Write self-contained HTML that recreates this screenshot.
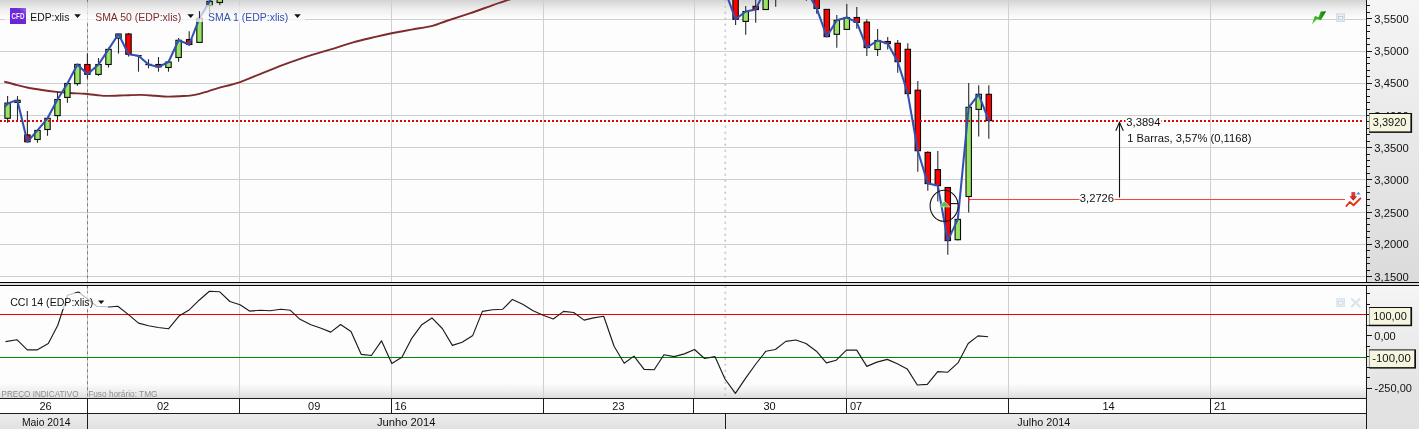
<!DOCTYPE html>
<html lang="pt"><head><meta charset="utf-8"><title>EDP:xlis</title>
<style>
html,body{margin:0;padding:0;background:#fdfdfd;overflow:hidden}
svg{display:block}
text{font-family:"Liberation Sans", sans-serif;font-size:11px;fill:#111}
.g{shape-rendering:crispEdges}
</style></head><body>
<svg width="1419" height="429" viewBox="0 0 1419 429">
<defs>
<linearGradient id="topg" gradientUnits="userSpaceOnUse" x1="0" y1="0" x2="0" y2="18"><stop offset="0" stop-color="#d3d3d3"/><stop offset="0.45" stop-color="#ececec"/><stop offset="1" stop-color="#fdfdfd"/></linearGradient>
<linearGradient id="botg" x1="0" y1="0" x2="0" y2="1"><stop offset="0" stop-color="#fdfdfd"/><stop offset="0.5" stop-color="#f0f0f0"/><stop offset="1" stop-color="#dcdcdc"/></linearGradient>
<linearGradient id="axg" x1="0" y1="0" x2="0" y2="1"><stop offset="0" stop-color="#f5f5f5"/><stop offset="1" stop-color="#dbdbdb"/></linearGradient>
<linearGradient id="axg2" x1="0" y1="0" x2="0" y2="1"><stop offset="0" stop-color="#f5f5f5"/><stop offset="0.75" stop-color="#e3e3e3"/><stop offset="1" stop-color="#e1e1e1"/></linearGradient>
<linearGradient id="mong" x1="0" y1="0" x2="0" y2="1"><stop offset="0" stop-color="#ececec"/><stop offset="1" stop-color="#e1e1e1"/></linearGradient>
<linearGradient id="grn" x1="0" y1="0" x2="1" y2="0"><stop offset="0" stop-color="#4cc832"/><stop offset="0.55" stop-color="#2fa822"/><stop offset="1" stop-color="#0f6a12"/></linearGradient>
<linearGradient id="cfd" x1="0" y1="1" x2="1" y2="0"><stop offset="0" stop-color="#6a22d6"/><stop offset="0.7" stop-color="#6d2ad8"/><stop offset="1" stop-color="#9a6ae8"/></linearGradient>
<linearGradient id="rarr" x1="0" y1="0" x2="0" y2="1"><stop offset="0" stop-color="#e04a4a"/><stop offset="1" stop-color="#c01818"/></linearGradient>
<clipPath id="cm"><rect x="0" y="0" width="1366" height="282"/></clipPath>
<clipPath id="ca"><rect x="1366" y="0" width="60" height="282"/></clipPath>
<clipPath id="cc"><rect x="0" y="286" width="1366" height="112"/></clipPath>
</defs>
<rect x="0" y="0" width="1419" height="429" fill="#fdfdfd"/>
<rect x="0" y="0" width="1366" height="18" fill="url(#topg)"/>
<rect x="0" y="383" width="1366" height="15" fill="url(#botg)"/>
<rect x="1367" y="0" width="52" height="282" fill="url(#axg)"/>
<rect x="1367" y="286" width="52" height="143" fill="url(#axg2)"/>
<g class="g" fill="#cfcfcf">
<rect x="0" y="19" width="1366" height="1"/>
<rect x="0" y="51" width="1366" height="1"/>
<rect x="0" y="83" width="1366" height="1"/>
<rect x="0" y="115" width="1366" height="1"/>
<rect x="0" y="147" width="1366" height="1"/>
<rect x="0" y="179" width="1366" height="1"/>
<rect x="0" y="212" width="1366" height="1"/>
<rect x="0" y="244" width="1366" height="1"/>
<rect x="0" y="276" width="1366" height="1"/>
<rect x="239" y="0" width="1" height="282"/>
<rect x="239" y="286" width="1" height="112"/>
<rect x="391" y="0" width="1" height="282"/>
<rect x="391" y="286" width="1" height="112"/>
<rect x="543" y="0" width="1" height="282"/>
<rect x="543" y="286" width="1" height="112"/>
<rect x="694" y="0" width="1" height="282"/>
<rect x="694" y="286" width="1" height="112"/>
<rect x="846" y="0" width="1" height="282"/>
<rect x="846" y="286" width="1" height="112"/>
<rect x="1008" y="0" width="1" height="282"/>
<rect x="1008" y="286" width="1" height="112"/>
<rect x="1210" y="0" width="1" height="282"/>
<rect x="1210" y="286" width="1" height="112"/>
</g>
<g>
<line x1="87.5" y1="0.00" x2="87.5" y2="282" stroke="#c9c9c9" stroke-width="1"/>
<line x1="87.5" y1="-0.60" x2="87.5" y2="282" stroke="#7c7c7c" stroke-width="1" stroke-dasharray="2.8 3.2"/>
<line x1="725.3" y1="-0.20" x2="725.3" y2="282" stroke="#c6c6c6" stroke-width="1.7" stroke-dasharray="2 4"/>
<line x1="87.5" y1="286.00" x2="87.5" y2="398" stroke="#c9c9c9" stroke-width="1"/>
<line x1="87.5" y1="285.40" x2="87.5" y2="398" stroke="#7c7c7c" stroke-width="1" stroke-dasharray="2.8 3.2"/>
<line x1="725.3" y1="285.80" x2="725.3" y2="398" stroke="#c6c6c6" stroke-width="1.7" stroke-dasharray="2 4"/>
</g>
<g clip-path="url(#cm)">
<path d="M5.0 81.8 C6.8 82.3 12.3 83.9 16.0 84.8 C19.7 85.7 24.0 86.9 28.2 87.7 C32.4 88.5 37.5 89.3 42.0 90.0 C46.5 90.7 51.9 91.4 56.4 91.9 C60.9 92.4 65.5 92.7 70.0 93.0 C74.5 93.3 80.4 93.5 84.6 93.8 C88.8 94.1 92.4 94.7 96.0 95.0 C99.6 95.3 102.5 95.8 107.0 95.9 C111.5 96.0 118.6 95.6 124.0 95.4 C129.4 95.2 136.0 94.8 141.0 94.9 C146.0 95.0 150.7 95.5 155.0 95.8 C159.3 96.1 163.7 96.5 167.7 96.6 C171.7 96.7 176.4 96.4 180.0 96.2 C183.6 96.0 186.9 96.0 190.0 95.6 C193.1 95.2 196.4 94.6 199.3 93.9 C202.2 93.2 205.0 92.2 208.0 91.3 C211.0 90.4 213.0 89.5 218.0 88.1 C223.0 86.7 232.7 84.5 239.4 82.3 C246.1 80.1 253.0 76.9 260.0 74.1 C267.0 71.3 275.7 67.6 283.2 64.8 C290.7 62.0 299.1 59.0 306.6 56.6 C314.1 54.2 322.4 52.0 329.9 49.7 C337.4 47.4 345.7 44.5 353.2 42.4 C360.7 40.3 370.4 38.1 376.5 36.6 C382.6 35.1 386.0 34.4 391.6 33.3 C397.2 32.2 404.9 30.8 411.4 29.6 C417.9 28.4 426.8 27.3 432.4 25.9 C438.0 24.5 440.4 23.0 446.4 21.0 C452.4 19.0 462.2 15.8 469.7 13.3 C477.2 10.8 486.4 7.4 493.0 5.1 C499.6 2.8 508.1 -0.0 511.0 -1.0" fill="none" stroke="#7d2b2b" stroke-width="1.9" stroke-linejoin="round" stroke-linecap="round"/>
<rect class="g" x="968" y="199" width="377" height="1" fill="#ff4040"/>
<g>
<line x1="7.6" y1="96.1" x2="7.6" y2="122.7" stroke="#2a2a2a" stroke-width="1.1"/>
<rect x="4.9" y="103.1" width="5.4" height="15.2" fill="#98e566" stroke="#0a0a0a" stroke-width="1.1"/>
<line x1="17.5" y1="96.1" x2="17.5" y2="120.4" stroke="#2a2a2a" stroke-width="1.1"/>
<rect x="14.8" y="100.3" width="5.4" height="2.1" fill="#98e566" stroke="#0a0a0a" stroke-width="1.1"/>
<line x1="27.4" y1="111.1" x2="27.4" y2="142.5" stroke="#2a2a2a" stroke-width="1.1"/>
<rect x="24.7" y="134.9" width="5.4" height="6.9" fill="#ff0000" stroke="#0a0a0a" stroke-width="1.1"/>
<line x1="37.5" y1="130.4" x2="37.5" y2="142.8" stroke="#2a2a2a" stroke-width="1.1"/>
<rect x="34.8" y="130.4" width="5.4" height="9.1" fill="#98e566" stroke="#0a0a0a" stroke-width="1.1"/>
<line x1="47.5" y1="118.3" x2="47.5" y2="135.8" stroke="#2a2a2a" stroke-width="1.1"/>
<rect x="44.8" y="118.3" width="5.4" height="11.2" fill="#98e566" stroke="#0a0a0a" stroke-width="1.1"/>
<line x1="57.5" y1="91.9" x2="57.5" y2="121.6" stroke="#2a2a2a" stroke-width="1.1"/>
<rect x="54.8" y="99.5" width="5.4" height="16.1" fill="#98e566" stroke="#0a0a0a" stroke-width="1.1"/>
<line x1="67.4" y1="83.5" x2="67.4" y2="102.7" stroke="#2a2a2a" stroke-width="1.1"/>
<rect x="64.7" y="83.5" width="5.4" height="13.9" fill="#98e566" stroke="#0a0a0a" stroke-width="1.1"/>
<line x1="77.4" y1="64.4" x2="77.4" y2="85.7" stroke="#2a2a2a" stroke-width="1.1"/>
<rect x="74.7" y="64.4" width="5.4" height="19.2" fill="#98e566" stroke="#0a0a0a" stroke-width="1.1"/>
<line x1="87.4" y1="53.6" x2="87.4" y2="78.6" stroke="#2a2a2a" stroke-width="1.1"/>
<rect x="84.7" y="64.5" width="5.4" height="9.8" fill="#ff0000" stroke="#0a0a0a" stroke-width="1.1"/>
<line x1="98.5" y1="58.0" x2="98.5" y2="75.8" stroke="#2a2a2a" stroke-width="1.1"/>
<rect x="95.8" y="64.5" width="5.4" height="9.9" fill="#98e566" stroke="#0a0a0a" stroke-width="1.1"/>
<line x1="108.5" y1="47.5" x2="108.5" y2="67.6" stroke="#2a2a2a" stroke-width="1.1"/>
<rect x="105.8" y="49.4" width="5.4" height="15.1" fill="#98e566" stroke="#0a0a0a" stroke-width="1.1"/>
<line x1="118.5" y1="34.0" x2="118.5" y2="53.6" stroke="#2a2a2a" stroke-width="1.1"/>
<rect x="115.8" y="34.0" width="5.4" height="4.2" fill="#98e566" stroke="#0a0a0a" stroke-width="1.1"/>
<line x1="128.5" y1="33.0" x2="128.5" y2="56.6" stroke="#2a2a2a" stroke-width="1.1"/>
<rect x="125.8" y="34.0" width="5.4" height="20.3" fill="#ff0000" stroke="#0a0a0a" stroke-width="1.1"/>
<line x1="138.5" y1="55.7" x2="138.5" y2="71.7" stroke="#2a2a2a" stroke-width="1.1"/>
<line x1="135.3" y1="55.7" x2="141.7" y2="55.7" stroke="#111" stroke-width="1.4"/>
<line x1="148.5" y1="59.2" x2="148.5" y2="68.3" stroke="#2a2a2a" stroke-width="1.1"/>
<line x1="145.3" y1="64.5" x2="151.7" y2="64.5" stroke="#111" stroke-width="1.4"/>
<line x1="158.5" y1="57.0" x2="158.5" y2="71.7" stroke="#2a2a2a" stroke-width="1.1"/>
<rect x="155.8" y="64.5" width="5.4" height="2.4" fill="#ff0000" stroke="#0a0a0a" stroke-width="1.1"/>
<line x1="168.5" y1="60.5" x2="168.5" y2="71.7" stroke="#2a2a2a" stroke-width="1.1"/>
<rect x="165.8" y="62.0" width="5.4" height="5.5" fill="#98e566" stroke="#0a0a0a" stroke-width="1.1"/>
<line x1="178.6" y1="37.9" x2="178.6" y2="61.7" stroke="#2a2a2a" stroke-width="1.1"/>
<rect x="175.9" y="40.3" width="5.4" height="17.2" fill="#98e566" stroke="#0a0a0a" stroke-width="1.1"/>
<line x1="189.2" y1="31.2" x2="189.2" y2="45.9" stroke="#2a2a2a" stroke-width="1.1"/>
<rect x="186.5" y="39.6" width="5.4" height="4.9" fill="#ff0000" stroke="#0a0a0a" stroke-width="1.1"/>
<line x1="199.5" y1="11.2" x2="199.5" y2="42.4" stroke="#2a2a2a" stroke-width="1.1"/>
<rect x="196.8" y="18.2" width="5.4" height="24.2" fill="#98e566" stroke="#0a0a0a" stroke-width="1.1"/>
<line x1="209.6" y1="1.0" x2="209.6" y2="13.3" stroke="#2a2a2a" stroke-width="1.1"/>
<rect x="206.9" y="1.4" width="5.4" height="4.2" fill="#98e566" stroke="#0a0a0a" stroke-width="1.1"/>
<line x1="219.8" y1="-5.0" x2="219.8" y2="5.6" stroke="#2a2a2a" stroke-width="1.1"/>
<rect x="217.1" y="-5.0" width="5.4" height="7.5" fill="#98e566" stroke="#0a0a0a" stroke-width="1.1"/>
<line x1="735.6" y1="-5.0" x2="735.6" y2="24.9" stroke="#2a2a2a" stroke-width="1.1"/>
<rect x="732.9" y="-5.0" width="5.4" height="24.3" fill="#ff0000" stroke="#0a0a0a" stroke-width="1.1"/>
<line x1="745.7" y1="5.9" x2="745.7" y2="34.7" stroke="#2a2a2a" stroke-width="1.1"/>
<rect x="743.0" y="11.5" width="5.4" height="9.9" fill="#98e566" stroke="#0a0a0a" stroke-width="1.1"/>
<line x1="755.7" y1="-5.0" x2="755.7" y2="22.7" stroke="#2a2a2a" stroke-width="1.1"/>
<rect x="753.0" y="6.3" width="5.4" height="3.2" fill="#ff0000" stroke="#0a0a0a" stroke-width="1.1"/>
<line x1="765.7" y1="-5.0" x2="765.7" y2="9.5" stroke="#2a2a2a" stroke-width="1.1"/>
<rect x="763.0" y="-5.0" width="5.4" height="14.5" fill="#98e566" stroke="#0a0a0a" stroke-width="1.1"/>
<line x1="775.7" y1="-5.0" x2="775.7" y2="6.7" stroke="#2a2a2a" stroke-width="1.1"/>
<line x1="772.5" y1="-4.5" x2="778.9" y2="-4.5" stroke="#111" stroke-width="1.4"/>
<line x1="806.4" y1="-5.0" x2="806.4" y2="0.8" stroke="#2a2a2a" stroke-width="1.1"/>
<line x1="803.2" y1="-4.5" x2="809.6" y2="-4.5" stroke="#111" stroke-width="1.4"/>
<line x1="816.7" y1="-5.0" x2="816.7" y2="13.7" stroke="#2a2a2a" stroke-width="1.1"/>
<rect x="814.0" y="-5.0" width="5.4" height="13.4" fill="#ff0000" stroke="#0a0a0a" stroke-width="1.1"/>
<line x1="826.8" y1="9.4" x2="826.8" y2="36.6" stroke="#2a2a2a" stroke-width="1.1"/>
<rect x="824.1" y="9.4" width="5.4" height="27.2" fill="#ff0000" stroke="#0a0a0a" stroke-width="1.1"/>
<line x1="836.8" y1="15.0" x2="836.8" y2="47.8" stroke="#2a2a2a" stroke-width="1.1"/>
<rect x="834.1" y="20.3" width="5.4" height="14.0" fill="#98e566" stroke="#0a0a0a" stroke-width="1.1"/>
<line x1="846.8" y1="3.9" x2="846.8" y2="29.4" stroke="#2a2a2a" stroke-width="1.1"/>
<rect x="844.1" y="17.5" width="5.4" height="11.9" fill="#98e566" stroke="#0a0a0a" stroke-width="1.1"/>
<line x1="856.8" y1="7.0" x2="856.8" y2="28.7" stroke="#2a2a2a" stroke-width="1.1"/>
<rect x="854.1" y="17.5" width="5.4" height="4.9" fill="#ff0000" stroke="#0a0a0a" stroke-width="1.1"/>
<line x1="866.8" y1="19.3" x2="866.8" y2="55.9" stroke="#2a2a2a" stroke-width="1.1"/>
<rect x="864.1" y="22.1" width="5.4" height="25.5" fill="#ff0000" stroke="#0a0a0a" stroke-width="1.1"/>
<line x1="877.6" y1="29.0" x2="877.6" y2="55.9" stroke="#2a2a2a" stroke-width="1.1"/>
<rect x="874.9" y="40.5" width="5.4" height="9.0" fill="#98e566" stroke="#0a0a0a" stroke-width="1.1"/>
<line x1="887.7" y1="37.0" x2="887.7" y2="49.6" stroke="#2a2a2a" stroke-width="1.1"/>
<rect x="885.0" y="41.5" width="5.4" height="2.1" fill="#ff0000" stroke="#0a0a0a" stroke-width="1.1"/>
<line x1="897.7" y1="40.0" x2="897.7" y2="72.7" stroke="#2a2a2a" stroke-width="1.1"/>
<rect x="895.0" y="43.3" width="5.4" height="18.4" fill="#ff0000" stroke="#0a0a0a" stroke-width="1.1"/>
<line x1="907.8" y1="43.3" x2="907.8" y2="93.6" stroke="#2a2a2a" stroke-width="1.1"/>
<rect x="905.1" y="49.3" width="5.4" height="44.3" fill="#ff0000" stroke="#0a0a0a" stroke-width="1.1"/>
<line x1="917.8" y1="81.1" x2="917.8" y2="171.7" stroke="#2a2a2a" stroke-width="1.1"/>
<rect x="915.1" y="90.2" width="5.4" height="60.5" fill="#ff0000" stroke="#0a0a0a" stroke-width="1.1"/>
<line x1="927.8" y1="151.3" x2="927.8" y2="190.7" stroke="#2a2a2a" stroke-width="1.1"/>
<rect x="925.1" y="152.4" width="5.4" height="31.2" fill="#ff0000" stroke="#0a0a0a" stroke-width="1.1"/>
<line x1="937.8" y1="151.0" x2="937.8" y2="201.5" stroke="#2a2a2a" stroke-width="1.1"/>
<rect x="935.1" y="169.6" width="5.4" height="16.0" fill="#ff0000" stroke="#0a0a0a" stroke-width="1.1"/>
<line x1="947.8" y1="187.5" x2="947.8" y2="254.7" stroke="#2a2a2a" stroke-width="1.1"/>
<rect x="945.1" y="187.5" width="5.4" height="53.1" fill="#ff0000" stroke="#0a0a0a" stroke-width="1.1"/>
<line x1="957.8" y1="219.4" x2="957.8" y2="240.4" stroke="#2a2a2a" stroke-width="1.1"/>
<rect x="955.1" y="219.4" width="5.4" height="20.3" fill="#98e566" stroke="#0a0a0a" stroke-width="1.1"/>
<line x1="968.7" y1="83.1" x2="968.7" y2="212.6" stroke="#2a2a2a" stroke-width="1.1"/>
<rect x="966.0" y="107.3" width="5.4" height="89.2" fill="#98e566" stroke="#0a0a0a" stroke-width="1.1"/>
<line x1="978.7" y1="85.2" x2="978.7" y2="136.6" stroke="#2a2a2a" stroke-width="1.1"/>
<rect x="976.0" y="94.3" width="5.4" height="15.1" fill="#98e566" stroke="#0a0a0a" stroke-width="1.1"/>
<line x1="988.8" y1="85.2" x2="988.8" y2="138.7" stroke="#2a2a2a" stroke-width="1.1"/>
<rect x="986.1" y="94.3" width="5.4" height="26.3" fill="#ff0000" stroke="#0a0a0a" stroke-width="1.1"/>
</g>
<line x1="968.7" y1="197" x2="968.7" y2="202" stroke="#e02020" stroke-width="1.2"/>
<line class="g" x1="0" y1="121" x2="1363" y2="121" stroke="#e60000" stroke-width="2" stroke-dasharray="2 2"/>
<path d="M5.0 106.6 L7.6 103.7 L12.5 101.6 L17.5 101.0 L27.4 141.8 L37.5 130.4 L47.5 118.3 L57.5 99.5 L67.4 83.5 L77.4 64.4 L87.4 74.3 L98.5 64.5 L108.5 49.4 L118.5 34.0 L128.5 54.3 L138.5 55.7 L148.5 64.5 L158.5 66.9 L168.5 62.0 L178.6 40.3 L189.2 44.5 L199.5 18.2 L209.6 1.4 L211.5 -2.0" fill="none" stroke="#3350b0" stroke-width="2.05" stroke-linejoin="round" stroke-linecap="round"/>
<path d="M727.0 -4.0 L735.6 19.3 L745.7 11.5 L755.7 9.5 L761.5 -3.0" fill="none" stroke="#3350b0" stroke-width="2.05" stroke-linejoin="round" stroke-linecap="round"/>
<path d="M809.5 -4.0 L816.7 8.4 L826.8 36.6 L836.8 20.3 L846.8 17.5 L856.8 22.4 L866.8 47.6 L877.6 40.5 L887.7 43.6 L897.7 61.7 L907.8 93.6 L917.8 150.7 L927.8 183.6 L937.8 185.6 L947.8 240.6 L957.8 219.4 L968.7 107.3 L978.7 94.3 L988.8 120.6" fill="none" stroke="#3350b0" stroke-width="2.05" stroke-linejoin="round" stroke-linecap="round"/>
<ellipse cx="944.1" cy="205.8" rx="14" ry="15.5" fill="none" stroke="#111" stroke-width="1.1"/>
<line x1="951" y1="203.6" x2="958" y2="203.6" stroke="#111" stroke-width="1.1"/>
<path d="M944.2 200.4 L950.4 207.2 L938.2 207.2 Z" fill="#ffffff" fill-opacity="0.75"/>
<path d="M944.2 201.6 L949.2 206.6 L939.4 206.6 Z" fill="#49c545"/>
<line x1="1119.5" y1="122.6" x2="1119.5" y2="197.5" stroke="#111" stroke-width="1.1"/>
<path d="M1115.8 130.8 L1119.5 122.4 L1123.3 130.8" fill="none" stroke="#111" stroke-width="1.1"/>
<rect x="1125.5" y="116" width="36" height="11" fill="#fdfdfd"/>
<rect x="1079.5" y="193" width="35" height="11" fill="#fdfdfd"/>
<text x="1126.3" y="125.6" textLength="34.3" lengthAdjust="spacingAndGlyphs">3,3894</text>
<text x="1127.2" y="141.8" textLength="124.2" lengthAdjust="spacingAndGlyphs">1 Barras, 3,57% (0,1168)</text>
<text x="1079.8" y="201.8" textLength="34.3" lengthAdjust="spacingAndGlyphs">3,2726</text>
<rect x="5" y="5" width="83" height="17" fill="url(#topg)" fill-opacity="0.72"/>
<rect x="88" y="5" width="108" height="17" fill="url(#topg)" fill-opacity="0.72"/>
<rect x="196" y="5" width="109" height="17" fill="url(#topg)" fill-opacity="0.72"/>
<line x1="199.5" y1="11.2" x2="199.5" y2="18.2" stroke="#2a2a2a" stroke-width="1.1"/>
<rect x="10" y="8" width="16" height="16" fill="url(#cfd)"/>
<text x="11.6" y="19" textLength="12.8" lengthAdjust="spacingAndGlyphs" style="font-size:8.6px;font-weight:bold;fill:#f4f0ff">CFD</text>
<text x="30.3" y="20.8" textLength="39" lengthAdjust="spacingAndGlyphs">EDP:xlis</text>
<path d="M74.2 14.2 L80.8 14.2 L77.5 18 Z" fill="#111"/>
<text x="95.2" y="20.8" textLength="86" lengthAdjust="spacingAndGlyphs" style="fill:#7d2b2b">SMA 50 (EDP:xlis)</text>
<path d="M187.4 14.2 L194 14.2 L190.7 18 Z" fill="#111"/>
<text x="208.1" y="20.8" textLength="80.2" lengthAdjust="spacingAndGlyphs" style="fill:#3350b0">SMA 1 (EDP:xlis)</text>
<path d="M294.2 14.2 L300.8 14.2 L297.5 18 Z" fill="#111"/>
<path d="M1312 24.4 L1314.8 15.8 L1318.6 17.2 L1320.7 11.6 L1326.2 11.3 L1320.8 20.2 L1316.9 19 Z" fill="url(#grn)"/>
<rect x="1336.8" y="13.8" width="7.6" height="7.6" fill="#e8ecf4" stroke="#cfd7e5" stroke-width="1"/>
<rect x="1338.6" y="16.4" width="4.2" height="2.8" fill="#f8fafc" stroke="#b9c4d8" stroke-width="0.8"/>
<path d="M1351.4 192 L1355.3 192 L1355.3 196.2 L1357.2 196.2 L1353.3 200.8 L1349.3 196.2 L1351.4 196.2 Z" fill="url(#rarr)"/>
<path d="M1358.4 191.8 L1360.7 194.5 L1356.1 194.5 Z" fill="#4a96e6"/>
<path d="M1346.4 206 L1349.8 202 L1353.5 205.2 L1360.4 198.4" fill="none" stroke="#e23210" stroke-width="1.9" stroke-linecap="round" stroke-linejoin="round"/>
</g>
<g clip-path="url(#cc)">
<rect class="g" x="0" y="314" width="1366" height="1" fill="#f00000"/>
<rect class="g" x="0" y="357" width="1366" height="1" fill="#008a00"/>
<polyline points="5.5,341.6 16.9,339.7 27.3,349.8 37.4,349.8 48.3,343.5 57.8,325.3 67.6,295.3 78.5,292.0 87.3,298.8 96.8,306.2 109.1,307.0 117.8,306.2 128.2,314.4 138.5,323.1 148.6,325.8 158.2,327.5 168.5,328.8 179.4,315.7 189.5,309.7 199.1,300.2 209.4,291.2 219.5,291.7 229.9,301.5 240.0,304.8 249.5,311.1 260.4,310.3 270.0,310.8 280.9,309.2 290.4,310.3 300.0,319.3 310.9,324.7 320.4,328.0 330.8,332.1 340.6,324.5 351.0,331.4 361.3,354.4 371.4,355.5 381.5,340.8 391.8,363.4 401.9,357.2 411.4,338.9 421.8,324.7 431.9,317.9 442.3,328.5 452.4,345.4 462.2,342.2 472.8,335.4 482.4,311.4 492.7,309.7 502.8,309.2 512.4,299.4 522.7,304.3 533.1,310.8 543.2,315.2 553.3,319.0 563.6,311.4 573.7,312.5 584.1,320.1 593.6,317.9 603.7,316.3 614.1,346.3 624.2,363.2 634.0,356.1 644.1,369.4 654.2,369.7 664.0,354.7 674.1,356.6 684.4,353.9 694.5,349.5 704.5,358.5 714.9,356.6 725.0,379.0 735.4,393.4 745.5,378.4 755.8,364.0 765.9,351.2 775.4,349.5 785.8,341.4 795.9,340.0 806.0,343.5 816.4,351.2 826.4,362.9 836.3,360.2 846.4,350.1 856.7,350.1 866.8,366.4 876.9,362.1 887.3,359.4 897.3,363.7 907.2,368.9 917.3,385.0 927.3,384.4 937.7,371.6 947.8,372.2 958.2,362.6 968.2,343.5 978.1,335.9 988.2,336.7" fill="none" stroke="#1c1c1c" stroke-width="1.15" stroke-linejoin="round"/>
<rect x="6" y="293" width="102" height="16" fill="#fdfdfd" fill-opacity="0.72"/>
<text x="10.2" y="306.2" textLength="83" lengthAdjust="spacingAndGlyphs">CCI 14 (EDP:xlis)</text>
<path d="M98 300.4 L104.4 300.4 L101.2 304 Z" fill="#111"/>
<rect x="1336.8" y="298.8" width="7.6" height="7.6" fill="#ebeff5" stroke="#d8dfea" stroke-width="1"/>
<rect x="1338.6" y="301.4" width="4.2" height="2.8" fill="#f8fafc" stroke="#cdd5e2" stroke-width="0.8"/>
<path d="M1351.8 299 L1359.6 306.4 M1359.6 299 L1351.8 306.4" stroke="#dde3ec" stroke-width="2.2" stroke-linecap="round"/>
<text x="1.5" y="397" textLength="77" lengthAdjust="spacingAndGlyphs" style="font-size:8.8px;fill:#8e8e8e">PREÇO INDICATIVO</text>
<text x="88.2" y="397" textLength="69.3" lengthAdjust="spacingAndGlyphs" style="font-size:8.8px;fill:#8e8e8e">Fuso horário: TMG</text>
</g>
<rect x="0" y="399" width="1366" height="14" fill="#fefefe"/>
<rect x="0" y="414" width="1366" height="15" fill="url(#mong)"/>
<g class="g" fill="#1c1c1c">
<rect x="0" y="398" width="1366" height="1"/>
<rect x="0" y="413" width="1366" height="1"/>
<rect x="87" y="398" width="1" height="16"/>
<rect x="239" y="398" width="1" height="16"/>
<rect x="391" y="398" width="1" height="16"/>
<rect x="543" y="398" width="1" height="16"/>
<rect x="693" y="398" width="1" height="16"/>
<rect x="846" y="398" width="1" height="16"/>
<rect x="1008" y="398" width="1" height="16"/>
<rect x="1210" y="398" width="1" height="16"/>
<rect x="87" y="413" width="1" height="16"/>
<rect x="725" y="413" width="1" height="16"/>
</g>
<text x="45.5" y="409.6" text-anchor="middle">26</text>
<text x="163.0" y="409.6" text-anchor="middle">02</text>
<text x="314.2" y="409.6" text-anchor="middle">09</text>
<text x="394.5" y="409.6" text-anchor="start">16</text>
<text x="618.4" y="409.6" text-anchor="middle">23</text>
<text x="769.5" y="409.6" text-anchor="middle">30</text>
<text x="850.0" y="409.6" text-anchor="start">07</text>
<text x="1108.6" y="409.6" text-anchor="middle">14</text>
<text x="1214.0" y="409.6" text-anchor="start">21</text>
<text x="46.2" y="426" text-anchor="middle" textLength="48.5" lengthAdjust="spacingAndGlyphs">Maio 2014</text>
<text x="406.2" y="426" text-anchor="middle" textLength="58.5" lengthAdjust="spacingAndGlyphs">Junho 2014</text>
<text x="1043.8" y="426" text-anchor="middle" textLength="53" lengthAdjust="spacingAndGlyphs">Julho 2014</text>
<g class="g" fill="#161616">
<rect x="1366" y="0" width="1" height="429"/>
<rect x="1367" y="5" width="3" height="1"/>
<rect x="1367" y="12" width="3" height="1"/>
<rect x="1367" y="18" width="5" height="1"/>
<rect x="1367" y="25" width="3" height="1"/>
<rect x="1367" y="31" width="3" height="1"/>
<rect x="1367" y="38" width="3" height="1"/>
<rect x="1367" y="44" width="3" height="1"/>
<rect x="1367" y="51" width="5" height="1"/>
<rect x="1367" y="57" width="3" height="1"/>
<rect x="1367" y="63" width="3" height="1"/>
<rect x="1367" y="70" width="3" height="1"/>
<rect x="1367" y="76" width="3" height="1"/>
<rect x="1367" y="83" width="5" height="1"/>
<rect x="1367" y="89" width="3" height="1"/>
<rect x="1367" y="96" width="3" height="1"/>
<rect x="1367" y="102" width="3" height="1"/>
<rect x="1367" y="109" width="3" height="1"/>
<rect x="1367" y="115" width="5" height="1"/>
<rect x="1367" y="121" width="3" height="1"/>
<rect x="1367" y="128" width="3" height="1"/>
<rect x="1367" y="134" width="3" height="1"/>
<rect x="1367" y="141" width="3" height="1"/>
<rect x="1367" y="147" width="5" height="1"/>
<rect x="1367" y="154" width="3" height="1"/>
<rect x="1367" y="160" width="3" height="1"/>
<rect x="1367" y="166" width="3" height="1"/>
<rect x="1367" y="173" width="3" height="1"/>
<rect x="1367" y="179" width="5" height="1"/>
<rect x="1367" y="186" width="3" height="1"/>
<rect x="1367" y="192" width="3" height="1"/>
<rect x="1367" y="199" width="3" height="1"/>
<rect x="1367" y="205" width="3" height="1"/>
<rect x="1367" y="212" width="5" height="1"/>
<rect x="1367" y="218" width="3" height="1"/>
<rect x="1367" y="224" width="3" height="1"/>
<rect x="1367" y="231" width="3" height="1"/>
<rect x="1367" y="237" width="3" height="1"/>
<rect x="1367" y="244" width="5" height="1"/>
<rect x="1367" y="250" width="3" height="1"/>
<rect x="1367" y="257" width="3" height="1"/>
<rect x="1367" y="263" width="3" height="1"/>
<rect x="1367" y="270" width="3" height="1"/>
<rect x="1367" y="276" width="5" height="1"/>
<rect x="1367" y="293" width="3" height="1"/>
<rect x="1367" y="304" width="3" height="1"/>
<rect x="1367" y="314" width="3" height="1"/>
<rect x="1367" y="325" width="3" height="1"/>
<rect x="1367" y="335" width="5" height="1"/>
<rect x="1367" y="346" width="3" height="1"/>
<rect x="1367" y="356" width="3" height="1"/>
<rect x="1367" y="367" width="3" height="1"/>
<rect x="1367" y="377" width="3" height="1"/>
<rect x="1367" y="388" width="5" height="1"/>
</g>
<g clip-path="url(#ca)">
<text x="1374.3" y="22.9" textLength="34.4" lengthAdjust="spacingAndGlyphs">3,5500</text>
<text x="1374.3" y="54.9" textLength="34.4" lengthAdjust="spacingAndGlyphs">3,5000</text>
<text x="1374.3" y="86.9" textLength="34.4" lengthAdjust="spacingAndGlyphs">3,4500</text>
<text x="1374.3" y="119.9" textLength="34.4" lengthAdjust="spacingAndGlyphs">3,4000</text>
<text x="1374.3" y="151.9" textLength="34.4" lengthAdjust="spacingAndGlyphs">3,3500</text>
<text x="1374.3" y="183.9" textLength="34.4" lengthAdjust="spacingAndGlyphs">3,3000</text>
<text x="1374.3" y="216.9" textLength="34.4" lengthAdjust="spacingAndGlyphs">3,2500</text>
<text x="1374.3" y="247.9" textLength="34.4" lengthAdjust="spacingAndGlyphs">3,2000</text>
<text x="1374.3" y="280.9" textLength="34.4" lengthAdjust="spacingAndGlyphs">3,1500</text>
</g>
<text x="1374.3" y="339.7">0,00</text>
<text x="1374.6" y="392">-250,00</text>
<rect x="1369.1" y="113.0" width="43.0" height="19.9" fill="#111"/>
<rect x="1369.4" y="114.0" width="41.0" height="17.4" fill="#f6f6e0"/>
<text x="1372.8" y="125.5">3,3920</text>
<rect x="1369.1" y="307.0" width="43.0" height="19.2" fill="#111"/>
<rect x="1369.4" y="308.0" width="41.0" height="16.7" fill="#f6f6e0"/>
<text x="1373.2" y="319.8">100,00</text>
<rect x="1369.1" y="349.4" width="46.9" height="19.2" fill="#111"/>
<rect x="1369.4" y="350.4" width="44.9" height="16.7" fill="#f6f6e0"/>
<text x="1372.2" y="361.9" textLength="38.6" lengthAdjust="spacingAndGlyphs">-100,00</text>
<g class="g">
<rect x="0" y="282" width="1419" height="1" fill="#050505"/>
<rect x="0" y="283" width="1419" height="2" fill="#dcdcdc"/>
<rect x="0" y="285" width="1419" height="1" fill="#050505"/>
</g>
</svg>
</body></html>
